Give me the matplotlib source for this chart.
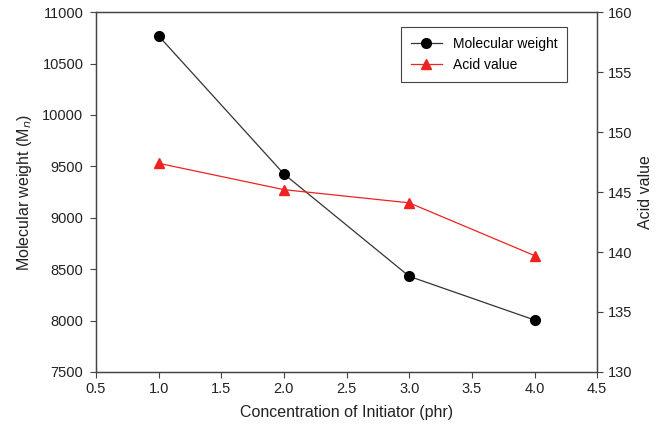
import numpy as np
import matplotlib.pyplot as plt

plt.rcParams['font.family'] = ['Liberation Sans', 'DejaVu Sans']

# data
initiator = [1.0, 2.0, 3.0, 4.0]
mol_weight = [10770, 9426, 8430, 8005]
acid_value = [147.4, 145.2, 144.1, 139.7]

fig = plt.figure(figsize=(6.57, 4.36), dpi=100)
ax = fig.add_axes([0.146, 0.147, 0.763, 0.825])
ax2 = ax.twinx()

l1, = ax.plot(initiator, mol_weight, color='#333333', lw=0.9,
              marker='o', markersize=7, markerfacecolor='black',
              markeredgecolor='black', label='Molecular weight')
l2, = ax2.plot(initiator, acid_value, color='#ee2222', lw=0.9,
               marker='^', markersize=7, markerfacecolor='#ee2222',
               markeredgecolor='#ee2222', label='Acid value')

ax.set_xlim(0.5, 4.5)
ax.set_ylim(7500, 11000)
ax2.set_ylim(130, 160)
ax.set_xticks(np.arange(0.5, 4.51, 0.5))
ax.set_xticklabels(['%.1f' % v for v in np.arange(0.5, 4.51, 0.5)])
ax.set_yticks(np.arange(7500, 11001, 500))
ax2.set_yticks(np.arange(130, 161, 5))

for a in (ax, ax2):
    a.tick_params(direction='out', length=4, width=0.8, labelsize=10.5,
                  color='#444444', labelcolor='#222222')
    for s in a.spines.values():
        s.set_color('#444444')
        s.set_linewidth(0.9)
ax.tick_params(axis='y', pad=5)
ax2.tick_params(axis='y', pad=4)

ax.set_xlabel('Concentration of Initiator (phr)', fontsize=11.5,
              color='#222222', labelpad=6)
ax.set_ylabel('Molecular weight (M$_n$)', fontsize=11.5, color='#222222',
              labelpad=6)
ax2.set_ylabel('Acid value', fontsize=11.5, color='#222222', labelpad=4)

leg = ax.legend([l1, l2], ['Molecular weight', 'Acid value'],
                loc='upper right', bbox_to_anchor=(0.94, 0.958),
                borderaxespad=0, fontsize=10, fancybox=False, framealpha=1,
                edgecolor='#444444', handlelength=2.2, borderpad=0.7)
leg.get_frame().set_linewidth(0.8)

fig.savefig('out.png', dpi=100)
